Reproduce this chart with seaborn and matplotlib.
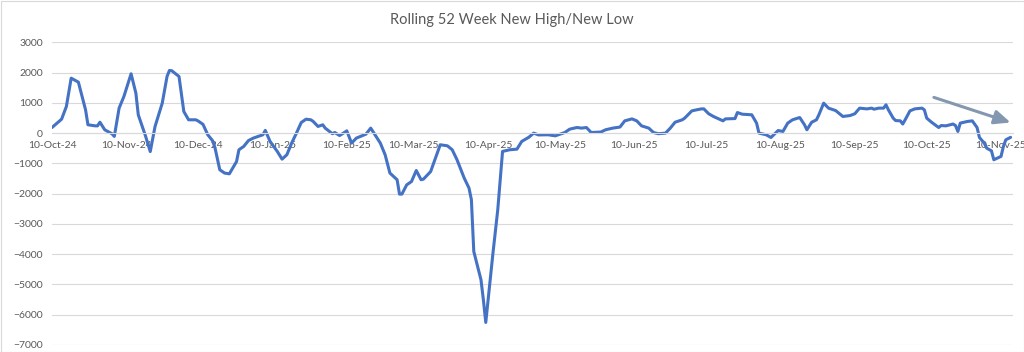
import numpy as np
import pandas as pd
import matplotlib
matplotlib.use("Agg")
import matplotlib.pyplot as plt
import matplotlib.dates as mdates
from matplotlib.patches import Rectangle
import seaborn as sns

# ---- data ----
start_date = "2024-10-10"
day_offsets = [
    0, 4, 6, 8, 11, 14, 15, 18, 19, 20, 22, 25, 26, 28, 30, 33, 35, 36, 39, 41,
    43, 46, 48, 49, 50, 53, 55, 57, 60, 61, 63, 65, 67, 68, 70, 72, 74, 77, 78, 80,
    82, 84, 86, 88, 89, 91, 94, 96, 98, 100, 102, 104, 106, 108, 109, 111, 113, 114, 117, 118,
    120, 122, 123, 125, 127, 131, 133, 137, 139, 141, 144, 145, 146, 148, 150, 152, 154, 155, 158, 160,
    162, 165, 167, 169, 172, 174, 175, 176, 179, 180, 181, 184, 186, 188, 191, 194, 196, 199, 201, 203,
    207, 210, 212, 214, 216, 219, 221, 223, 225, 229, 231, 234, 237, 239, 242, 244, 246, 249, 251, 253,
    256, 258, 260, 263, 264, 267, 269, 271, 272, 274, 276, 280, 281, 285, 286, 288, 292, 294, 295, 298,
    300, 303, 305, 307, 309, 312, 314, 315, 317, 319, 320, 322, 324, 327, 330, 333, 335, 337, 340, 342,
    343, 345, 347, 348, 349, 351, 352, 354, 355, 356, 358, 360, 363, 364, 365, 367, 370, 371, 373, 376,
    377, 378, 379, 382, 384, 386, 387, 389, 390, 392, 393, 395, 396, 397, 398, 400,
]
hl_values = [
    185, 460, 880, 1815, 1685, 770, 275, 240, 240, 360, 110, -20, -110, 825, 1210, 1960, 1320, 605, -90, -610,
    220, 990, 1870, 2070, 2060, 1870, 715, 440, 440, 400, 290, -55, -250, -480, -1210, -1320, -1345, -940, -550, -440,
    -245, -165, -110, -55, 90, -275, -605, -860, -715, -330, 0, 350, 460, 440, 385, 220, 275, 165, -20, 20,
    -80, 20, 75, -330, -165, -35, 165, -330, -715, -1320, -1540, -2015, -2015, -1710, -1600, -1235, -1540, -1520, -1270, -825,
    -385, -420, -550, -880, -1485, -1815, -2200, -3910, -4845, -5505, -6255, -3965, -2535, -605, -550, -530, -275, -135, 0, -60,
    -55, -90, -35, 20, 130, 185, 165, 185, 20, 35, 110, 165, 200, 405, 470, 405, 240, 165, 20, -20,
    0, 165, 360, 440, 495, 735, 770, 800, 800, 640, 550, 405, 470, 480, 680, 625, 605, 330, 0, -55,
    -145, 85, 55, 330, 440, 515, 275, 110, 360, 440, 605, 990, 825, 745, 550, 580, 640, 825, 800, 825,
    790, 825, 825, 935, 770, 495, 415, 405, 300, 440, 735, 800, 825, 770, 495, 360, 185, 250, 240, 300,
    250, 55, 330, 385, 405, 185, -145, -330, -495, -585, -880, -805, -770, -440, -220, -140,
]
y_ticks = [3000, 2000, 1000, 0, -1000, -2000, -3000, -4000, -5000, -6000, -7000]
tick_dates = ["2024-10-10", "2024-11-10", "2024-12-10", "2025-01-10", "2025-02-10", "2025-03-10",
              "2025-04-10", "2025-05-10", "2025-06-10", "2025-07-10", "2025-08-10", "2025-09-10",
              "2025-10-10", "2025-11-10"]
arrow_start = ("2025-10-13", 1180)   # (date, value)
arrow_end = ("2025-11-14", 350)
title_text = "Rolling 52 Week New High/New Low"

# ---- build ----
t0 = pd.Timestamp(start_date)
df = pd.DataFrame({
    "date": t0 + pd.to_timedelta(day_offsets, unit="D"),
    "value": hl_values,
})

sns.set_theme(style="white")
plt.rcParams["font.family"] = ["Lato", "DejaVu Sans"]

fig = plt.figure(figsize=(10.24, 3.52), dpi=100)
ax = fig.add_axes([52 / 1024, 1 - 345 / 352, (1013 - 52) / 1024, (345 - 42.3) / 352])

sns.lineplot(data=df, x="date", y="value", ax=ax, color="#4472C4", linewidth=2.2)

ax.set_ylim(-7000, 3000)
ax.set_xlim(t0, t0 + pd.Timedelta(days=401))
ax.set_yticks(y_ticks)
ax.set_xticks(pd.to_datetime(tick_dates))
ax.xaxis.set_major_formatter(mdates.DateFormatter("%d-%b-%y"))

ax.grid(axis="y", color="#D9D9D9", linewidth=0.8)
ax.grid(axis="x", visible=False)
for s in ["top", "right", "left"]:
    ax.spines[s].set_visible(False)
ax.spines["bottom"].set_position(("data", 0))
ax.spines["bottom"].set_color("#D9D9D9")
ax.spines["bottom"].set_linewidth(0.8)
ax.tick_params(axis="both", length=0, labelsize=7.5, labelcolor="#595959")
ax.tick_params(axis="y", pad=6.5)
ax.tick_params(axis="x", pad=6)
ax.set_xlabel("")
ax.set_ylabel("")

ax.annotate("", xy=(pd.Timestamp(arrow_end[0]), arrow_end[1]),
            xytext=(pd.Timestamp(arrow_start[0]), arrow_start[1]),
            arrowprops=dict(arrowstyle="-|>,head_length=0.8,head_width=0.35",
                            color="#8497B0", lw=2.2, shrinkA=0, shrinkB=0))

fig.text(0.5, 1 - 20 / 352, title_text, ha="center", va="center",
         fontsize=10.5, color="#595959")

fig.patches.append(Rectangle((0.5 / 1024, 0.5 / 352), 1 - 1 / 1024, 1 - 1 / 352,
                             transform=fig.transFigure, fill=False,
                             edgecolor="#D9D9D9", linewidth=0.8))

fig.savefig("out.png", dpi=100)
